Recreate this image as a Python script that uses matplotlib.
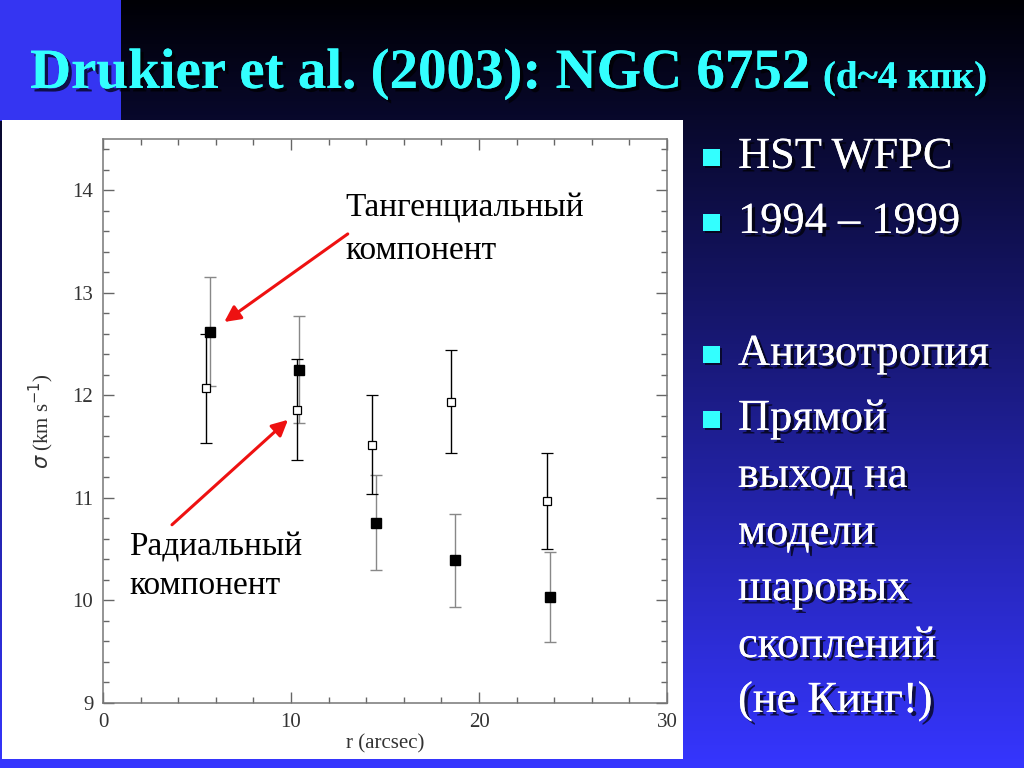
import numpy as np
import matplotlib
matplotlib.use('Agg')
import matplotlib.pyplot as plt
import matplotlib.patheffects as pe
from matplotlib.patches import Rectangle
from matplotlib.ticker import MultipleLocator

# Data: radial (open) and tangential (filled) dispersion
r_rad = [5.5, 10.3, 14.3, 18.5, 23.6]
sig_rad = [12.07, 11.86, 11.52, 11.94, 10.97]
err_rad = [0.53, 0.49, 0.48, 0.50, 0.47]

r_tan = [5.7, 10.45, 14.5, 18.7, 23.8]
sig_tan = [12.62, 12.25, 10.76, 10.39, 10.03]
err_tan = [0.53, 0.52, 0.46, 0.45, 0.44]

title_main = 'Drukier et al. (2003): NGC 6752'
title_small = '(d~4 кпк)'
bullet_lines = ['HST WFPC', '1994 – 1999', 'Анизотропия', 'Прямой',
                'выход на', 'модели', 'шаровых', 'скоплений', '(не Кинг!)']
bullet_base = [168, 233, 365, 430, 487, 544, 600, 657, 712]
bullet_mark = [True, True, True, True, False, False, False, False, False]

W, H = 1024, 768
fig = plt.figure(figsize=(W / 100, H / 100), dpi=100)

def fx(x):
    return x / W

def fy(y):
    return 1 - y / H

# slide background: dark-to-blue vertical gradient
bg = fig.add_axes([0, 0, 1, 1])
t = np.linspace(0, 1, 400)[:, None]
top = np.array([0.0, 0.0, 0.02])
bot = np.array([0.21, 0.21, 1.0])
grad = top + (bot - top) * t[..., None] * np.ones((1, 2, 1))
bg.imshow(grad, extent=[0, W, H, 0], aspect='auto', interpolation='bilinear')
bg.set_xlim(0, W)
bg.set_ylim(H, 0)
bg.axis('off')
bg.add_patch(Rectangle((0, 0), 121, 121, color='#3535f2', lw=0))
bg.add_patch(Rectangle((2, 120), 681, 639, color='white', lw=0))

shadow = [pe.withSimplePatchShadow(offset=(2.5, -2.5), shadow_rgbFace='black', alpha=0.7), pe.Normal()]

fig.text(fx(30), fy(88), title_main, color='#33ffff', fontsize=41, fontweight='bold',
         family='Liberation Serif', va='baseline', path_effects=shadow)
fig.text(fx(823), fy(88), title_small, color='#33ffff', fontsize=28, fontweight='bold',
         family='Liberation Serif', va='baseline', path_effects=shadow)

for txt, yb, mark in zip(bullet_lines, bullet_base, bullet_mark):
    fig.text(fx(738), fy(yb), txt, color='white', fontsize=32,
             family='Liberation Serif', va='baseline', path_effects=shadow)
    if mark:
        bg.add_patch(Rectangle((705, yb - 17), 17, 17, color='black', alpha=0.6, lw=0))
        bg.add_patch(Rectangle((703, yb - 19), 17, 17, color='#33ffff', lw=0))

# the chart itself
ax = fig.add_axes([fx(103), fy(703), (667 - 103) / W, (703 - 139) / H])
ax.errorbar(r_tan, sig_tan, yerr=err_tan, fmt='s', color='black', ms=6.5,
            ecolor='#888888', elinewidth=1.0, capsize=4, capthick=1.0)
ax.errorbar(r_rad, sig_rad, yerr=err_rad, fmt='s', mfc='white', mec='black', mew=0.9,
            ms=5.5, ecolor='black', elinewidth=1.0, capsize=4, capthick=1.0)

ax.set_xlim(0, 30)
ax.set_ylim(9, 14.5)
ax.xaxis.set_major_locator(MultipleLocator(10))
ax.xaxis.set_minor_locator(MultipleLocator(2))
ax.yaxis.set_major_locator(MultipleLocator(1))
ax.yaxis.set_minor_locator(MultipleLocator(0.2))
ax.tick_params(which='both', direction='in', top=True, right=True, color='#666666',
               labelcolor='#333333', labelsize=15, width=1.0)
ax.tick_params(which='major', length=8, pad=7)
ax.tick_params(which='minor', length=4)
for lab in ax.get_xticklabels() + ax.get_yticklabels():
    lab.set_family('Liberation Serif')
for s in ax.spines.values():
    s.set_color('#777777')
    s.set_linewidth(1.1)
ax.set_xlabel('r (arcsec)', fontsize=15, color='#333333', labelpad=2, family='Liberation Serif')
ax.set_ylabel(r'$\sigma$ (km s$^{-1}$)', fontsize=15, color='#333333', labelpad=12,
              family='Liberation Serif')

arrow = dict(arrowstyle='-|>', color='#ee1111', lw=2.2, mutation_scale=24)
ax.annotate('', xy=(6.33, 12.70), xytext=(13.14, 13.59), arrowprops=arrow)
ax.annotate('', xy=(9.95, 11.78), xytext=(3.56, 10.72), arrowprops=arrow)

lbl = dict(fontsize=24, family='Liberation Serif', va='baseline', ha='left')
ax.text(12.87, 13.74, 'Тангенциальный', **lbl)
ax.text(12.87, 13.33, 'компонент', **lbl)
ax.text(1.38, 10.44, 'Радиальный', **lbl)
ax.text(1.38, 10.06, 'компонент', **lbl)

fig.savefig('out.png', dpi=100)
